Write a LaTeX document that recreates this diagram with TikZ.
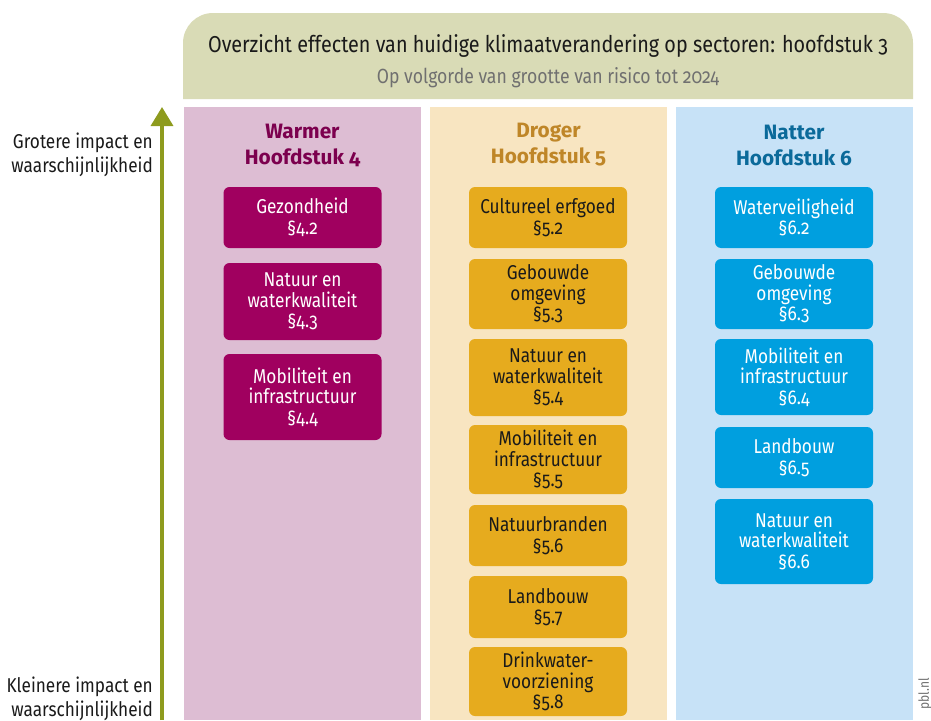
\documentclass[tikz,border=0pt]{standalone}
\usepackage{fontspec}
\setmainfont{Fira Sans}[Numbers=OldStyle, FakeStretch=0.86]
\newfontfamily\titlefont{Fira Sans}[Numbers=OldStyle]
\usetikzlibrary{arrows.meta}
\definecolor{hdrbg}{HTML}{D9DBB6}
\definecolor{arrowc}{HTML}{8E9B1E}
\definecolor{pbg}{HTML}{DDBDD3}
\definecolor{pbox}{HTML}{A0005F}
\definecolor{ptitle}{HTML}{7C004E}
\definecolor{obg}{HTML}{F8E5C1}
\definecolor{obox}{HTML}{E6AB1E}
\definecolor{otitle}{HTML}{BF8628}
\definecolor{bbg}{HTML}{C7E2F7}
\definecolor{bbox}{HTML}{009FDF}
\definecolor{btitle}{HTML}{0B6A9A}
\definecolor{txt}{HTML}{1A1A1A}
\definecolor{subtxt}{HTML}{707070}
\tikzset{
  colbg/.style={inner sep=0pt, minimum width=237pt, minimum height=613pt, anchor=north},
  sect/.style={rounded corners=6pt, inner sep=0pt, minimum width=158pt, align=center,
    font=\fontsize{20}{20.5}\selectfont},
  psect/.style={sect, fill=pbox, text=white},
  osect/.style={sect, fill=obox, text=txt},
  bsect/.style={sect, fill=bbox, text=white},
  coltitle/.style={align=center, font=\titlefont\fontsize{20.8}{26}\selectfont\bfseries},
  sidelbl/.style={align=right, anchor=east, inner sep=0pt, text=txt, font=\fontsize{20}{23.5}\selectfont},
}
\begin{document}
\begin{tikzpicture}[x=1pt,y=-1pt]
\useasboundingbox (0,0) rectangle (931,720);
% header
\fill[hdrbg] (183,99) -- (183,43) arc[start angle=180,end angle=270,radius=30] -- (883,13)
  arc[start angle=270,end angle=360,radius=30] -- (913,99) -- cycle;
\node[text=txt, font=\fontsize{23}{26}\selectfont] (title) at (548,46)
  {Overzicht effecten van huidige klimaatverandering op sectoren: hoofdstuk 3};
\node[text=subtxt, font=\fontsize{20.5}{22}\selectfont] (subtitle) at (548,78)
  {Op volgorde van grootte van risico tot 2024};
% columns
\node[colbg, fill=pbg] (pcol) at (302.5,107) {};
\node[colbg, fill=obg] (ocol) at (548.5,107) {};
\node[colbg, fill=bbg] (bcol) at (794,107) {};
\node[coltitle, text=ptitle] (ptit) at (302.5,145) {Warmer\\Hoofdstuk 4};
\node[coltitle, text=otitle] (otit) at (548.5,145) {Droger\\Hoofdstuk 5};
\node[coltitle, text=btitle] (btit) at (794,145) {Natter\\Hoofdstuk 6};
% purple boxes
\node[psect, minimum height=61pt] (p1) at (302.5,217.5) {Gezondheid\\§4.2};
\node[psect, minimum height=77pt] (p2) at (302.5,301.5) {Natuur en\\waterkwaliteit\\§4.3};
\node[psect, minimum height=86pt] (p3) at (302.5,397) {Mobiliteit en\\infrastructuur\\§4.4};
% orange boxes
\node[osect, minimum height=61pt] (o1) at (548,217.5) {Cultureel erfgoed\\§5.2};
\node[osect, minimum height=70pt] (o2) at (548,294) {Gebouwde\\omgeving\\§5.3};
\node[osect, minimum height=77pt] (o3) at (548,377.5) {Natuur en\\waterkwaliteit\\§5.4};
\node[osect, minimum height=69pt] (o4) at (548,459.5) {Mobiliteit en\\infrastructuur\\§5.5};
\node[osect, minimum height=61pt] (o5) at (548,535.5) {Natuurbranden\\§5.6};
\node[osect, minimum height=62pt] (o6) at (548,607) {Landbouw\\§5.7};
\node[osect, minimum height=69pt] (o7) at (548,681.5) {Drinkwater-\\voorziening\\§5.8};
% blue boxes
\node[bsect, minimum height=61pt] (b1) at (794,217.5) {Waterveiligheid\\§6.2};
\node[bsect, minimum height=70pt] (b2) at (794,294) {Gebouwde\\omgeving\\§6.3};
\node[bsect, minimum height=76pt] (b3) at (794,377) {Mobiliteit en\\infrastructuur\\§6.4};
\node[bsect, minimum height=61pt] (b4) at (794,457.5) {Landbouw\\§6.5};
\node[bsect, minimum height=85pt] (b5) at (794,541.5) {Natuur en\\waterkwaliteit\\§6.6};
% arrow
\coordinate (abot) at (162,720);
\coordinate (atop) at (162,107);
\draw[arrowc, line width=3.5pt, -{Triangle[length=19pt,width=22pt]}] (abot) -- (atop);
% side labels
\node[sidelbl] (hi) at (153,155) {Grotere impact en\\waarschijnlijkheid};
\node[sidelbl] (lo) at (153,699) {Kleinere impact en\\waarschijnlijkheid};
% credit
\node[rotate=90, text=subtxt, font=\fontsize{14}{16}\selectfont] (pbl) at (925,694) {pbl.nl};
\end{tikzpicture}
\end{document}
